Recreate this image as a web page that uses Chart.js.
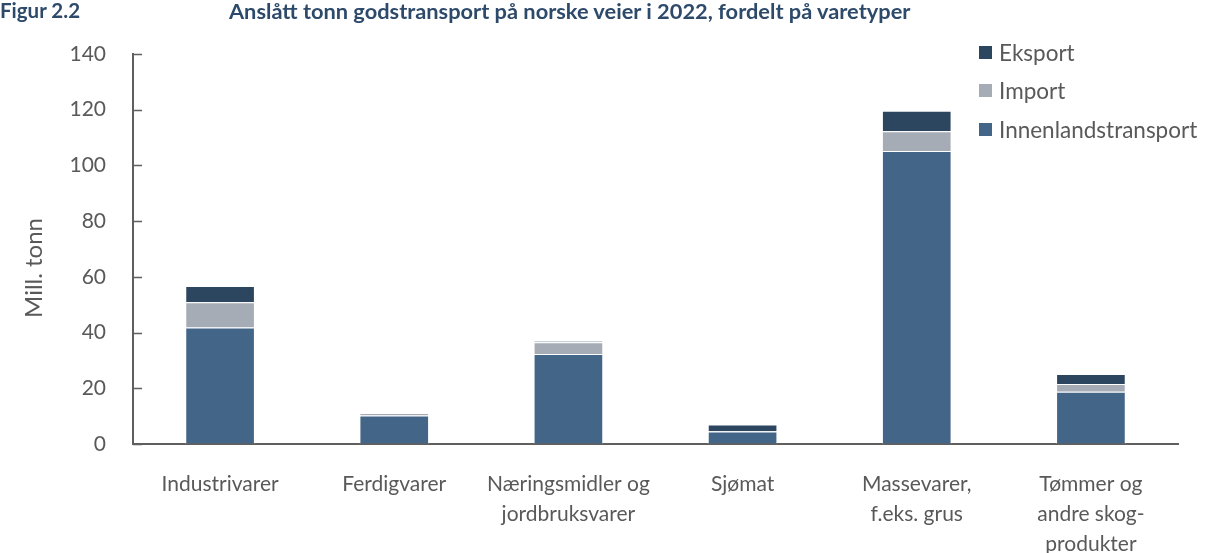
<!DOCTYPE html>
<html>
<head>
<meta charset="utf-8">
<script src="https://cdn.jsdelivr.net/npm/chart.js@4.4.1/dist/chart.umd.min.js"></script>
<style>
  html, body { margin: 0; padding: 0; background: #fff; }
  #wrap { position: relative; width: 1205px; height: 553px; overflow: hidden; }
  #chart { position: absolute; left: 0; top: 0; }
  .head { position: absolute; top: -2px; font: bold 20.5px Lato, sans-serif; color: #2e4a6b; white-space: nowrap; }
  #legend { position: absolute; left: 979px; top: 33px; font: 22.5px Lato, sans-serif; color: #595959; }
  #legend div { height: 38.5px; display: flex; align-items: center; }
  #legend span.box { width: 13px; height: 13px; margin-right: 7px; display: inline-block; }
</style>
</head>
<body>
<div id="wrap">
  <canvas id="chart" width="1205" height="553"></canvas>
  <div class="head" style="left:0">Figur 2.2</div>
  <div class="head" style="left:229px; font-size:21.8px; top:-3px">Anslått tonn godstransport på norske veier i 2022, fordelt på varetyper</div>
  <div id="legend"></div>
</div>
<script>
// --- data (mill. tonn) ---
const categories = [
  'Industrivarer',
  'Ferdigvarer',
  ['Næringsmidler og', 'jordbruksvarer'],
  'Sjømat',
  ['Massevarer,', 'f.eks. grus'],
  ['Tømmer og', 'andre skog-', 'produkter']
];
const innenland = [41.8, 10.2, 32.3, 4.5, 105.2, 18.8];
const importT   = [9.1, 0.9, 4.2, 0.1, 7.1, 2.7];
const eksport   = [5.8, 0.1, 0.5, 2.4, 7.3, 3.6];
const yTicks    = [0, 20, 40, 60, 80, 100, 120, 140];

const COLORS = {
  innen: '#436587',
  imp: '#a6acb6',
  eks: '#2d4660',
  text: '#595959',
  axis: '#5f5f5f'
};
const FONT = 'Lato, sans-serif';

const datasets = [
  { label: 'Innenlandstransport', data: innenland, backgroundColor: COLORS.innen },
  { label: 'Import', data: importT, backgroundColor: COLORS.imp },
  { label: 'Eksport', data: eksport, backgroundColor: COLORS.eks }
].map(d => Object.assign(d, {
  borderColor: 'rgba(255,255,255,0.8)',
  borderWidth: 1,
  borderSkipped: 'bottom',
  barPercentage: 0.4,
  categoryPercentage: 1.0
}));

// legend (drawn top-down: Eksport, Import, Innenland)
const legendEl = document.getElementById('legend');
datasets.slice().reverse().forEach(d => {
  const row = document.createElement('div');
  row.innerHTML = '<span class="box" style="background:' + d.backgroundColor + '"></span>' + d.label;
  legendEl.appendChild(row);
});

// inward tick marks on the y axis + rotated axis title
const axisExtras = {
  id: 'axisExtras',
  afterDraw(chart) {
    const ctx = chart.ctx;
    const y = chart.scales.y;
    ctx.save();
    ctx.strokeStyle = COLORS.axis;
    ctx.lineWidth = 1.5;
    yTicks.forEach(v => {
      const py = Math.round(y.getPixelForValue(v)) + 0.5;
      ctx.beginPath();
      ctx.moveTo(y.right, py);
      ctx.lineTo(y.right + 9, py);
      ctx.stroke();
    });
    ctx.translate(34, 268);
    ctx.rotate(-Math.PI / 2);
    ctx.fillStyle = COLORS.text;
    ctx.font = '24px ' + FONT;
    ctx.textAlign = 'center';
    ctx.textBaseline = 'middle';
    ctx.fillText('Mill. tonn', 0, 0);
    ctx.restore();
  }
};

new Chart(document.getElementById('chart'), {
  type: 'bar',
  data: { labels: categories, datasets: datasets },
  options: {
    responsive: false,
    animation: false,
    layout: { padding: { top: 54, right: 27, left: 0, bottom: 0 } },
    plugins: { legend: { display: false }, tooltip: { enabled: false } },
    scales: {
      x: {
        stacked: true,
        grid: { display: true, drawOnChartArea: false, drawTicks: false },
        border: { display: true, color: COLORS.axis, width: 2 },
        ticks: {
          color: COLORS.text,
          padding: 25,
          maxRotation: 0,
          autoSkip: false,
          font: { family: FONT, size: 21, lineHeight: 1.43 }
        },
        afterFit(scale) { scale.height = 109; }
      },
      y: {
        stacked: true,
        min: 0,
        max: 140,
        afterBuildTicks(scale) { scale.ticks = yTicks.map(v => ({ value: v })); },
        grid: { display: true, drawOnChartArea: false, drawTicks: false },
        border: { display: true, color: COLORS.axis, width: 2 },
        ticks: {
          color: COLORS.text,
          padding: 27,
          font: { family: FONT, size: 21 }
        },
        afterFit(scale) { scale.width = 133; }
      }
    }
  },
  plugins: [axisExtras]
});
</script>
</body>
</html>
